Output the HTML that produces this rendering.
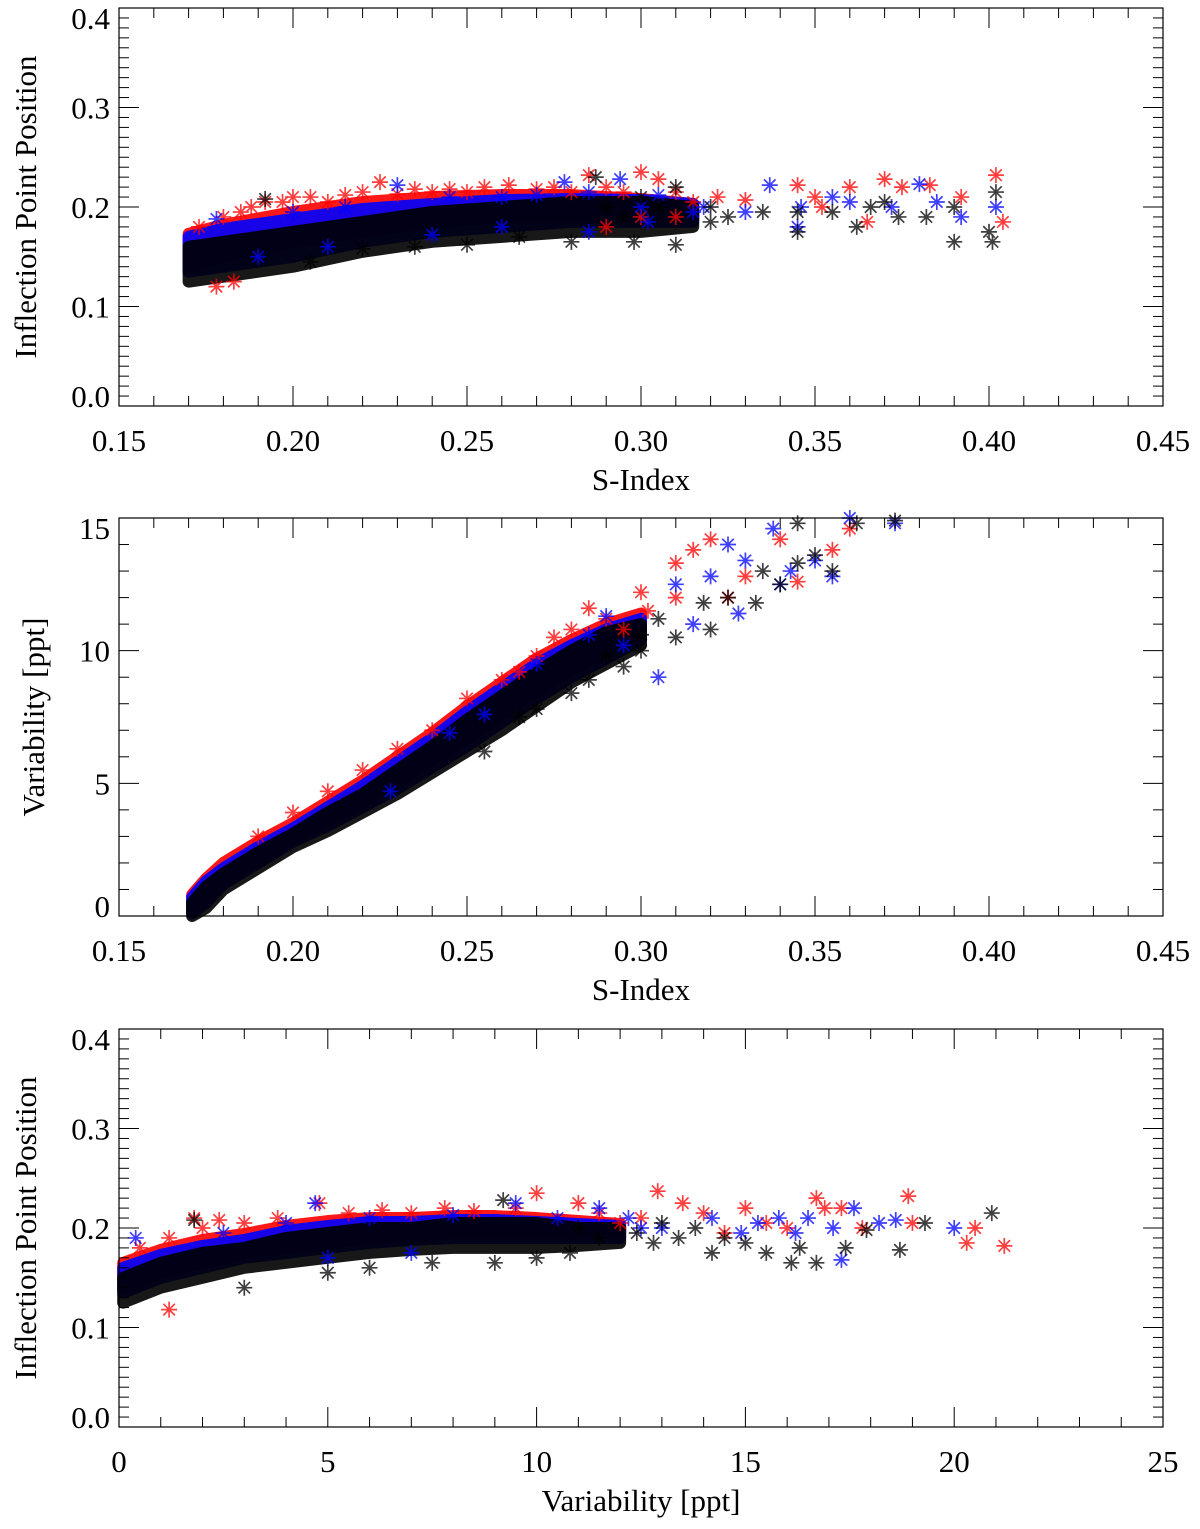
<!DOCTYPE html>
<html><head><meta charset="utf-8"><style>
body{margin:0;background:#fff}
svg{display:block}
text{font-family:"Liberation Serif",serif;fill:#000}
</style></head><body>
<svg id="fig" width="1200" height="1529"></svg>
<script>
// ---------- DATA ----------
// Panel 1: S-Index vs Inflection Point Position
const p1BandX = [0.17,0.18,0.20,0.22,0.24,0.26,0.28,0.30,0.315];
const p1BlackLo = [0.125,0.13,0.14,0.155,0.165,0.17,0.175,0.175,0.18];
const p1BlackHi = [0.16,0.165,0.175,0.185,0.195,0.2,0.205,0.205,0.2];
const p1BlueLo = [0.135,0.14,0.15,0.165,0.175,0.18,0.185,0.185,0.185];
const p1BlueHi = [0.17,0.178,0.188,0.198,0.203,0.207,0.208,0.207,0.203];
const p1RedLo = [0.14,0.15,0.165,0.175,0.185,0.19,0.19,0.19,0.19];
const p1RedHi = [0.173,0.182,0.195,0.205,0.21,0.212,0.212,0.208,0.203];
const p1RedPts = [[0.192,0.205],[0.215,0.212],[0.225,0.225],[0.24,0.215],[0.262,0.222],[0.285,0.232],[0.3,0.235],[0.305,0.228],[0.33,0.207],[0.345,0.222],[0.36,0.22],[0.37,0.228],[0.375,0.22],[0.383,0.222],[0.392,0.21],[0.402,0.232],[0.404,0.185],[0.322,0.21],[0.352,0.2],[0.365,0.185],[0.178,0.12],[0.35,0.21],[0.2,0.21],[0.185,0.195],[0.173,0.18],[0.18,0.19],[0.188,0.2],[0.197,0.205],[0.205,0.21],[0.21,0.205],[0.22,0.215],[0.23,0.213],[0.235,0.218],[0.245,0.218],[0.25,0.215],[0.255,0.22],[0.27,0.218],[0.275,0.22],[0.28,0.215],[0.29,0.22],[0.295,0.215],[0.31,0.215],[0.315,0.205],[0.3,0.19],[0.31,0.19],[0.183,0.125],[0.29,0.18]];
const p1BluePts = [[0.178,0.188],[0.23,0.222],[0.278,0.225],[0.294,0.228],[0.337,0.222],[0.346,0.2],[0.38,0.223],[0.392,0.19],[0.402,0.2],[0.372,0.2],[0.36,0.205],[0.33,0.195],[0.315,0.195],[0.345,0.18],[0.355,0.21],[0.302,0.185],[0.385,0.205],[0.21,0.16],[0.19,0.15],[0.2,0.195],[0.215,0.2],[0.245,0.21],[0.26,0.21],[0.27,0.212],[0.285,0.215],[0.305,0.212],[0.318,0.2],[0.285,0.175],[0.26,0.18],[0.24,0.172],[0.3,0.2]];
const p1BlackPts = [[0.192,0.208],[0.287,0.23],[0.31,0.22],[0.345,0.195],[0.345,0.175],[0.355,0.195],[0.362,0.18],[0.366,0.2],[0.374,0.19],[0.382,0.19],[0.39,0.2],[0.39,0.165],[0.4,0.175],[0.401,0.165],[0.402,0.215],[0.335,0.195],[0.32,0.185],[0.298,0.165],[0.31,0.162],[0.28,0.165],[0.265,0.17],[0.25,0.162],[0.235,0.16],[0.22,0.158],[0.205,0.145],[0.29,0.2],[0.3,0.21],[0.37,0.205],[0.32,0.2],[0.325,0.19],[0.305,0.2],[0.295,0.19]];

// Panel 2: S-Index vs Variability
const p2BandX = [0.171,0.175,0.18,0.19,0.20,0.21,0.22,0.23,0.24,0.25,0.26,0.27,0.28,0.29,0.30];
const p2BlackLo = [0,0.3,1.0,1.8,2.6,3.2,3.9,4.6,5.4,6.2,7.0,7.9,8.8,9.5,10.2];
const p2BlackHi = [0.5,1.1,1.6,2.4,3.1,3.9,4.6,5.5,6.4,7.4,8.3,9.2,10.0,10.7,11.0];
const p2BlueLo = [0.1,0.5,1.2,2.0,2.8,3.4,4.1,4.8,5.6,6.4,7.3,8.2,9.0,9.7,10.4];
const p2BlueHi = [0.7,1.3,1.8,2.6,3.3,4.1,4.9,5.8,6.7,7.7,8.6,9.5,10.2,10.8,11.2];
const p2RedLo = [0.2,0.6,1.3,2.1,2.9,3.6,4.3,5.1,5.9,6.7,7.6,8.5,9.3,10.0,10.7];
const p2RedHi = [0.8,1.4,2.0,2.8,3.5,4.3,5.1,6.0,6.9,7.9,8.8,9.7,10.4,11.0,11.4];
const p2RedPts = [[0.285,11.6],[0.29,11.2],[0.3,12.2],[0.31,13.3],[0.315,13.8],[0.32,14.2],[0.33,12.8],[0.34,14.2],[0.345,12.6],[0.355,13.8],[0.36,14.6],[0.302,11.5],[0.31,12.0],[0.325,12.0],[0.295,10.8],[0.275,10.5],[0.265,9.2],[0.22,5.5],[0.23,6.3],[0.24,7.0],[0.25,8.2],[0.26,8.9],[0.27,9.8],[0.28,10.8],[0.21,4.7],[0.2,3.9],[0.19,3.0]];
const p2BluePts = [[0.305,9.0],[0.32,12.8],[0.325,14.0],[0.33,13.4],[0.338,14.6],[0.34,12.5],[0.35,13.4],[0.355,12.8],[0.36,15],[0.373,14.8],[0.31,12.5],[0.295,10.2],[0.315,11.0],[0.328,11.4],[0.343,13.0],[0.228,4.7],[0.245,6.9],[0.255,7.6],[0.27,9.5],[0.285,10.6],[0.29,11.3]];
const p2BlackPts = [[0.255,6.2],[0.265,7.5],[0.28,8.4],[0.29,9.8],[0.3,10.0],[0.31,10.5],[0.318,11.8],[0.325,12.0],[0.333,11.8],[0.34,12.5],[0.345,13.3],[0.345,14.8],[0.35,13.6],[0.355,13.0],[0.362,14.8],[0.373,14.9],[0.32,10.8],[0.335,13.0],[0.27,7.8],[0.285,8.9],[0.3,10.6],[0.305,11.2],[0.295,9.4]];

// Panel 3: Variability vs Inflection Point Position
const p3BandX = [0.1,1,2,3,4,5,6,7,8,9,10,11,12];
const p3BlackLo = [0.125,0.14,0.15,0.16,0.165,0.17,0.175,0.178,0.18,0.18,0.18,0.182,0.185];
const p3BlackHi = [0.15,0.165,0.175,0.18,0.19,0.195,0.2,0.2,0.205,0.205,0.205,0.2,0.2];
const p3BlueLo = [0.135,0.15,0.16,0.17,0.175,0.18,0.185,0.188,0.19,0.19,0.19,0.19,0.19];
const p3BlueHi = [0.16,0.173,0.182,0.188,0.197,0.202,0.206,0.206,0.208,0.208,0.206,0.204,0.202];
const p3RedLo = [0.14,0.155,0.165,0.175,0.18,0.185,0.19,0.192,0.195,0.195,0.195,0.195,0.195];
const p3RedHi = [0.165,0.178,0.188,0.194,0.202,0.207,0.21,0.21,0.212,0.212,0.21,0.207,0.204];
const p3RedPts = [[1.2,0.118],[1.8,0.21],[2.4,0.208],[4.8,0.225],[7,0.215],[9.5,0.22],[10,0.235],[11,0.225],[12.9,0.237],[12.5,0.21],[13.5,0.225],[14,0.215],[15,0.22],[15.5,0.205],[16.7,0.23],[16.9,0.22],[17.3,0.22],[17.8,0.2],[18.9,0.232],[19,0.205],[20.3,0.185],[20.5,0.2],[21.2,0.182],[16,0.2],[14.5,0.195],[0.5,0.18],[1.2,0.19],[2,0.2],[3,0.205],[3.8,0.21],[5.5,0.215],[6.3,0.218],[7.8,0.22],[8.5,0.217],[11.5,0.215],[12,0.205]];
const p3BluePts = [[0.4,0.19],[4.7,0.225],[9.5,0.225],[11.5,0.22],[12.2,0.21],[13,0.2],[14.2,0.21],[14.9,0.195],[15.3,0.205],[16.5,0.21],[17.1,0.2],[17.3,0.168],[17.6,0.22],[18.2,0.205],[18.6,0.208],[20,0.2],[16.2,0.195],[15.8,0.21],[2.5,0.195],[4,0.205],[6,0.21],[8,0.213],[10.5,0.21],[12.5,0.2],[5,0.17],[7,0.175]];
const p3BlackPts = [[1.8,0.208],[9.2,0.228],[11,0.2],[12.4,0.195],[13.4,0.19],[14.2,0.175],[14.5,0.19],[15.5,0.175],[16.1,0.165],[16.7,0.165],[16.3,0.18],[17.4,0.18],[17.9,0.198],[18.7,0.178],[19.3,0.205],[20.9,0.215],[15,0.185],[13.8,0.2],[10,0.17],[9,0.165],[7.5,0.165],[6,0.16],[5,0.155],[3,0.14],[11.5,0.19],[12.8,0.185],[13,0.205],[10.8,0.175]];

const p1XTicks = ["0.15","0.20","0.25","0.30","0.35","0.40","0.45"];
const p1YTicks = ["0.0","0.1","0.2","0.3","0.4"];
const p2YTicks = ["0","5","10","15"];
const p3XTicks = ["0","5","10","15","20","25"];

// ---------- DRAW ----------
const NS="http://www.w3.org/2000/svg";
const svg=document.getElementById('fig');
function mk(tag,attrs,parent){const e=document.createElementNS(NS,tag);for(const k in attrs)e.setAttribute(k,attrs[k]);(parent||svg).appendChild(e);return e;}
const L=119,R=1163;
const COLORS={red:'#ff0000',blue:'#0000ff',black:'#000000'};

function panel(cfg){
  const g=mk('g',{});
  
  
  const sx=v=>L+(v-cfg.x0)/(cfg.x1-cfg.x0)*(R-L);
  const sy=v=>cfg.bot-(v-cfg.y0)/(cfg.y1-cfg.y0)*(cfg.bot-cfg.top);
  const bandG=mk('g',{},g);
  
  
  cfg.bands.forEach(b=>{
    let pts=cfg.bx.map((x,i)=>sx(x)+','+sy(b.hi[i]));
    pts=pts.concat(cfg.bx.map((x,i)=>sx(x)+','+sy(b.lo[i])).reverse());
    const p=mk('polygon',{points:pts.join(' '),fill:COLORS[b.c],stroke:COLORS[b.c],'stroke-width':12,'stroke-linejoin':'round',opacity:0.9},bandG);
    
    
  });
  cfg.series.forEach(s=>{
    const sg=mk('g',{stroke:COLORS[s.c],'stroke-width':1.7,opacity:0.75},g);
    
    
    s.pts.forEach(p=>{
      const cx=sx(p[0]),cy=sy(p[1]),r=8;
      if(cy<cfg.top-2||cy>cfg.bot+2)return;
      const d=`M${cx-r},${cy}H${cx+r}M${cx},${cy-r}V${cy+r}M${cx-r*0.72},${cy-r*0.72}L${cx+r*0.72},${cy+r*0.72}M${cx-r*0.72},${cy+r*0.72}L${cx+r*0.72},${cy-r*0.72}`;
      const m=mk('path',{d:d,fill:'none'},sg);
      
      
    });
  });
  const fr=mk('rect',{x:L,y:cfg.top,width:R-L,height:cfg.bot-cfg.top,fill:'none',stroke:'#000','stroke-width':1.2},g);
  
  
  const tg=mk('g',{stroke:'#000','stroke-width':1},g);
  
  
  const xn=Math.round((cfg.x1-cfg.x0)/cfg.xMinor);
  for(let i=0;i<=xn;i++){const x=sx(cfg.x0+i*cfg.xMinor);const maj=i%cfg.xPer===0;const len=maj?20:10;
    mk('line',{x1:x,y1:cfg.bot,x2:x,y2:cfg.bot-len},tg);mk('line',{x1:x,y1:cfg.top,x2:x,y2:cfg.top+len},tg);}
  const yn=Math.round((cfg.y1-cfg.y0)/cfg.yMinor);
  for(let i=0;i<=yn;i++){const y=sy(cfg.y0+i*cfg.yMinor);const maj=i%cfg.yPer===0;const len=maj?20:10;
    mk('line',{x1:L,y1:y,x2:L+len,y2:y},tg);mk('line',{x1:R,y1:y,x2:R-len,y2:y},tg);}
  cfg.xLabels.forEach((t,i)=>{const x=sx(cfg.x0+i*cfg.xMinor*cfg.xPer);
    const e=mk('text',{x:x,y:cfg.bot+45,'text-anchor':'middle','font-size':31},g);e.textContent=t;
    });
  cfg.yLabels.forEach((t,i)=>{let y=sy(cfg.y0+i*cfg.yMinor*cfg.yPer)+11;
    if(i===0)y-=10; if(i===cfg.yLabels.length-1)y+=10;
    const e=mk('text',{x:110,y:y,'text-anchor':'end','font-size':31},g);e.textContent=t;
    });
  const xt=mk('text',{x:641,y:cfg.bot+84,'text-anchor':'middle','font-size':31},g);xt.textContent=cfg.xTitle;
  
  const yc=(cfg.top+cfg.bot)/2;
  const yt=mk('text',{x:cfg.ytx,y:yc,'text-anchor':'middle','font-size':31,transform:`rotate(-90 ${cfg.ytx} ${yc})`},g);yt.textContent=cfg.yTitle;
  
}

panel({name:'panel-sindex-vs-inflection',x0:0.15,x1:0.45,y0:0,y1:0.4,top:8,bot:406,xMinor:0.01,xPer:5,yMinor:0.01,yPer:10,
  xLabels:p1XTicks,yLabels:p1YTicks,xTitle:'S-Index',yTitle:'Inflection Point Position',ytx:36,
  bx:p1BandX,bands:[{c:'red',lo:p1RedLo,hi:p1RedHi},{c:'blue',lo:p1BlueLo,hi:p1BlueHi},{c:'black',lo:p1BlackLo,hi:p1BlackHi}],
  series:[{c:'red',pts:p1RedPts},{c:'blue',pts:p1BluePts},{c:'black',pts:p1BlackPts}]});
panel({name:'panel-sindex-vs-variability',x0:0.15,x1:0.45,y0:0,y1:15,top:518,bot:916,xMinor:0.01,xPer:5,yMinor:1,yPer:5,
  xLabels:p1XTicks,yLabels:p2YTicks,xTitle:'S-Index',yTitle:'Variability [ppt]',ytx:44,
  bx:p2BandX,bands:[{c:'red',lo:p2RedLo,hi:p2RedHi},{c:'blue',lo:p2BlueLo,hi:p2BlueHi},{c:'black',lo:p2BlackLo,hi:p2BlackHi}],
  series:[{c:'red',pts:p2RedPts},{c:'blue',pts:p2BluePts},{c:'black',pts:p2BlackPts}]});
panel({name:'panel-variability-vs-inflection',x0:0,x1:25,y0:0,y1:0.4,top:1029,bot:1427,xMinor:1,xPer:5,yMinor:0.01,yPer:10,
  xLabels:p3XTicks,yLabels:p1YTicks,xTitle:'Variability [ppt]',yTitle:'Inflection Point Position',ytx:36,
  bx:p3BandX,bands:[{c:'red',lo:p3RedLo,hi:p3RedHi},{c:'blue',lo:p3BlueLo,hi:p3BlueHi},{c:'black',lo:p3BlackLo,hi:p3BlackHi}],
  series:[{c:'red',pts:p3RedPts},{c:'blue',pts:p3BluePts},{c:'black',pts:p3BlackPts}]});
</script>
</body></html>
